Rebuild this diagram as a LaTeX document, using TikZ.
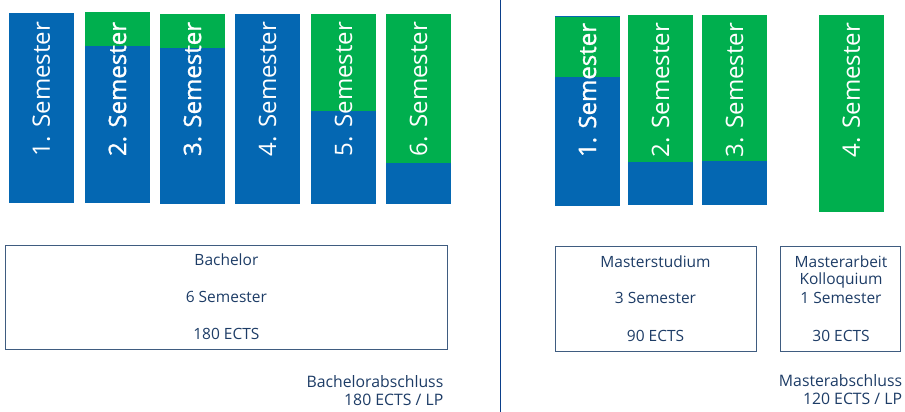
\documentclass[tikz,border=0pt]{standalone}
\usepackage{fontspec}
\setmainfont{Open Sans}
\newfontfamily\barfont{Open Sans}
\newfontfamily\barfontb[FakeBold=1.2]{Open Sans}
\definecolor{barblue}{HTML}{0467B2}
\definecolor{bargreen}{HTML}{00AF4E}
\definecolor{txtnavy}{HTML}{1D3C66}
\definecolor{boxline}{HTML}{3F5C80}
\definecolor{divline}{HTML}{0B3F8A}
\tikzset{
  semtext/.style={rotate=90, text=white, inner sep=0pt, font=\barfont\fontsize{24}{28}\selectfont},
  semtextb/.style={semtext, font=\barfontb\fontsize{24}{28}\selectfont},
  infobox/.style={draw=boxline, line width=0.9pt},
  infotext/.style={text=txtnavy, inner sep=0pt, font=\fontsize{15.5}{18.3}\selectfont, align=center},
  degree/.style={text=txtnavy, inner sep=0pt, font=\fontsize{15.8}{18}\selectfont, align=right, anchor=north east},
}
\begin{document}
\begin{tikzpicture}[x=1pt,y=-1pt]
\useasboundingbox (0,0) rectangle (905,412);
% divider
\draw[divline, line width=1.3pt] (500.3,0) -- (500.3,412);
% Bachelor bars
\fill[barblue] (9,13) rectangle (73.7,202.7);
\fill[barblue] (85,12) rectangle (150,202.7);
\fill[bargreen] (85,12) rectangle (150,45.7);
\fill[barblue] (160,14) rectangle (225,203.7);
\fill[bargreen] (160,14) rectangle (225,47.7);
\fill[barblue] (235,14) rectangle (300,203.7);
\fill[barblue] (311,14) rectangle (376,203.7);
\fill[bargreen] (311,14) rectangle (376,110.7);
\fill[barblue] (386,14) rectangle (451,203.7);
\fill[bargreen] (386,14) rectangle (451,162.7);
\node[semtext]  (b1) at (41.3,89) {1. Semester};
\node[semtextb] (b2) at (117.5,89) {2. Semester};
\node[semtextb] (b3) at (192.5,89) {3. Semester};
\node[semtext]  (b4) at (267.5,89) {4. Semester};
\node[semtext]  (b5) at (343.5,89) {5. Semester};
\node[semtext]  (b6) at (418.5,89) {6. Semester};
% Master bars
\fill[barblue] (555,16) rectangle (620,205.7);
\fill[bargreen] (555,16.8) rectangle (620,77);
\fill[barblue] (628,15) rectangle (693,204.7);
\fill[bargreen] (628,15) rectangle (693,162);
\fill[barblue] (702,15) rectangle (767,204.7);
\fill[bargreen] (702,15) rectangle (767,161);
\fill[bargreen] (819,15) rectangle (883.7,211.7);
\node[semtextb] (m1) at (587.5,90) {1. Semester};
\node[semtext]  (m2) at (660.5,90) {2. Semester};
\node[semtext]  (m3) at (734.5,90) {3. Semester};
\node[semtext]  (m4) at (851.3,90) {4. Semester};
% boxes
\draw[infobox] (5,245) rectangle (447.7,349.3);
\node[infotext] (bt1) at (226.4,260) {Bachelor};
\node[infotext] (bt2) at (226.4,296.7) {6 Semester};
\node[infotext] (bt3) at (226.4,334) {180 ECTS};
\draw[infobox] (555,246.7) rectangle (756,351);
\node[infotext] (mt1) at (655.5,261.7) {Masterstudium};
\node[infotext] (mt2) at (655.5,298.3) {3 Semester};
\node[infotext] (mt3) at (655.5,335.7) {90 ECTS};
\draw[infobox] (780,246.7) rectangle (900.7,351);
\node[infotext] (at1) at (841,261.7) {Masterarbeit};
\node[infotext] (at2) at (841,280) {Kolloquium};
\node[infotext] (at3) at (841,298.3) {1 Semester};
\node[infotext] (at4) at (841,335.7) {30 ECTS};
% degrees
\node[degree] (bd) at (443.5,375.5) {Bachelorabschluss\\180 ECTS / LP};
\node[degree] (md) at (902.3,374.5) {Masterabschluss\\120 ECTS / LP};
\end{tikzpicture}
\end{document}
